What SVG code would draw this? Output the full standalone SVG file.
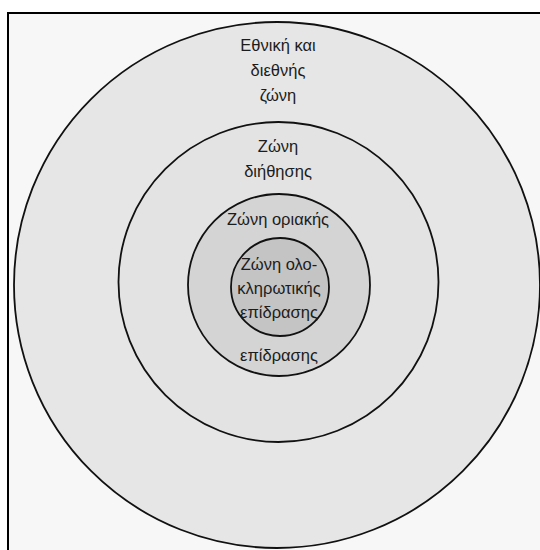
<svg xmlns="http://www.w3.org/2000/svg" width="540" height="550" viewBox="0 0 540 550">
<style>
.ring{stroke:#111;stroke-width:1.8}
.t{font-family:"Liberation Sans","DejaVu Sans",sans-serif;font-size:16.5px;fill:#1c1c1c;text-anchor:middle}
</style>
<rect width="540" height="550" fill="#ffffff"/>
<rect x="8" y="13" width="540" height="545" fill="#f7f7f7" stroke="#000" stroke-width="2"/>
<g id="zone-national">
<circle class="ring" cx="277" cy="285" r="263" fill="#e6e6e6"/>
<text class="t" x="278" y="51">Εθνική και</text>
<text class="t" x="278" y="76">διεθνής</text>
<text class="t" x="278" y="101">ζώνη</text>
</g>
<g id="zone-diffusion">
<circle class="ring" cx="278.5" cy="282" r="160" fill="#e3e3e3"/>
<text class="t" x="278" y="152">Ζώνη</text>
<text class="t" x="278" y="177">διήθησης</text>
</g>
<g id="zone-marginal">
<circle class="ring" cx="279" cy="285" r="91" fill="#d4d4d4"/>
<text class="t" x="278" y="225">Ζώνη οριακής</text>
<text class="t" x="279" y="361">επίδρασης</text>
</g>
<g id="zone-total">
<circle class="ring" cx="280" cy="287" r="49" fill="#c4c4c4"/>
<text class="t" x="279" y="270">Ζώνη ολο-</text>
<text class="t" x="279" y="294">κληρωτικής</text>
<text class="t" x="279" y="318">επίδρασης</text>
</g>
<g id="connectors"></g>
</svg>
